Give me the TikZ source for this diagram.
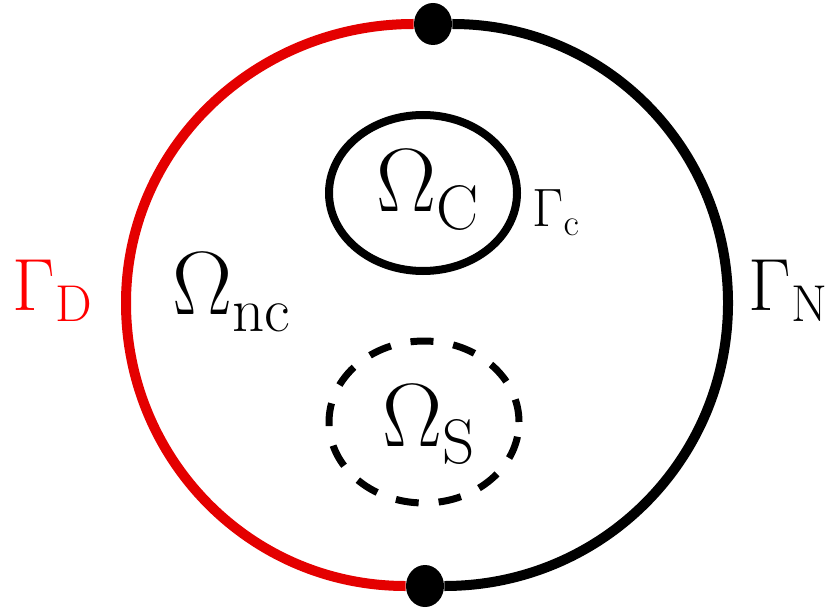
\documentclass[tikz,border=0pt]{standalone}
\usepackage{fix-cm}
\usepackage{amsmath}
\usetikzlibrary{shapes.geometric}
\definecolor{dirred}{RGB}{228,0,0}
\newcommand{\lsub}[2]{#1_{\lower2pt\hbox{$\scriptstyle\mathrm{#2}$}}}

\begin{document}
\begin{tikzpicture}[x=0.5pt, y=-0.5pt,
  junction/.style={ellipse, fill=black, inner sep=0pt, minimum width=19pt, minimum height=21pt},
  boundary/.style={line width=5pt},
  subdomain/.style={ellipse, draw, inner sep=0pt, line width=4pt},
  domlabel/.style={inner sep=0pt, anchor=base west, font=\fontsize{45}{52}\selectfont},
  bdlabel/.style={inner sep=0pt, anchor=base west, font=\fontsize{37}{44}\selectfont}]
  \useasboundingbox (0,0) rectangle (838,614);
  \node[junction] (top) at (433,24) {};
  \node[junction] (bot) at (425,586) {};
  \coordinate (w) at (126,303);
  \coordinate (e) at (728,303);
  \draw[boundary, dirred] (top) to[out=180, in=90] (w) to[out=-90, in=180] (bot);
  \draw[boundary] (top) to[out=0, in=90] (e) to[out=-90, in=0] (bot);
  \node[subdomain, minimum width=94pt, minimum height=78pt] (cdom) at (423,193) {};
  \node[subdomain, dash pattern=on 11.5pt off 10pt, line width=3.5pt,
    minimum width=95pt, minimum height=81pt] (sdom) at (424,422) {};
  \node[domlabel] (omc) at (376,212) {$\lsub{\Omega}{C}$};
  \node[domlabel] (oms) at (382,446) {$\lsub{\Omega}{S}$};
  \node[domlabel] (omnc) at (172,314) {$\lsub{\Omega}{nc}$};
  \node[bdlabel, text=red] (gd) at (12,310) {$\Gamma_{\mathrm{D}}$};
  \node[bdlabel] (gn) at (748,310) {$\Gamma_{\mathrm{N}}$};
  \node[inner sep=0pt, anchor=base west, font=\fontsize{27}{32}\selectfont] (gc) at (532,227) {$\Gamma_{\mathrm{c}}$};
\end{tikzpicture}
\end{document}
